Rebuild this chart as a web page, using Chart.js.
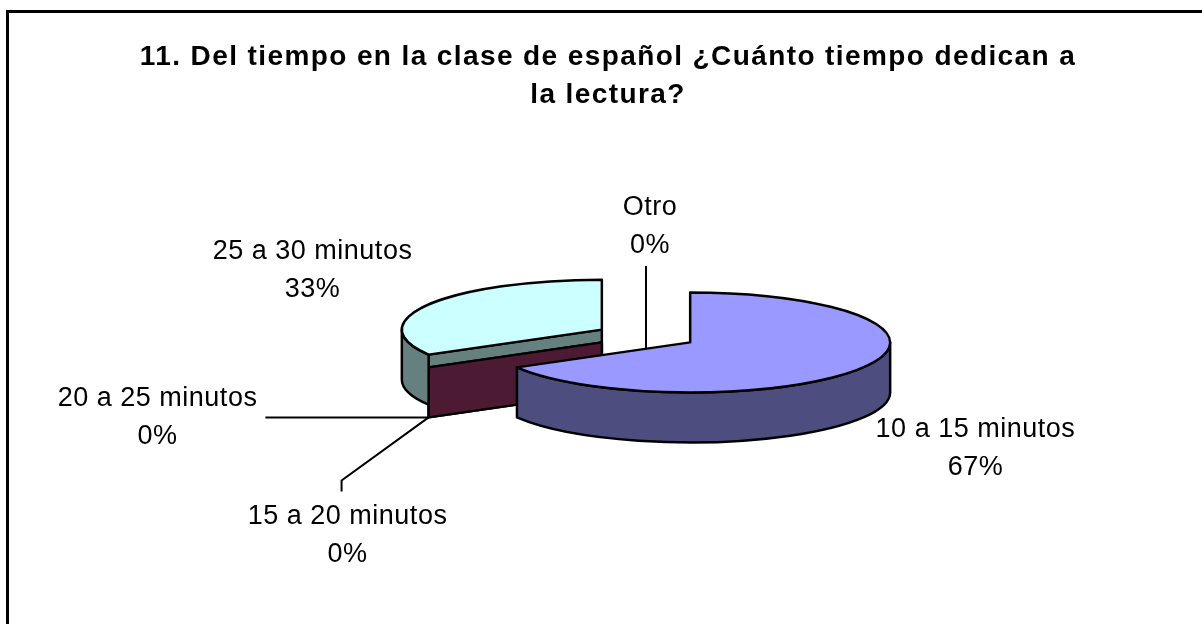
<!DOCTYPE html>
<html lang="es">
  <head>
    <meta charset="UTF-8" />
    <meta name="viewport" content="width=device-width, initial-scale=1.0" />
    <title>Chartjs - Pie 3D</title>
    <script src="https://cdn.jsdelivr.net/npm/chart.js@4.4.1/dist/chart.umd.min.js"></script>
    <style>
      html, body { margin: 0; padding: 0; background: #fff; }
      .container--pieChart { width: 1202px; height: 624px; position: relative; }
    </style>
  </head>
  <body>
    <main>
      <div class="container--pieChart">
        <canvas id="myChart"></canvas>
      </div>
    </main>
    <script>
      const titleLines = ['11. Del tiempo en la clase de español ¿Cuánto tiempo dedican a', 'la lectura?'];
      const categories = ['10 a 15 minutos', '15 a 20 minutos', '20 a 25 minutos', '25 a 30 minutos', 'Otro'];
      const counts = [2, 0, 0, 1, 0];
      const topColors = ['#9999FF', '#993366', '#FFFFCC', '#CCFFFF', '#660066'];
      const sideColors = ['#4D4D80', '#4D1A33', '#808066', '#668080', '#330033'];

      const GUTTER = 76; // empty box on the left, pushes the pie right of the title centre

      const getSlices = (chart, opts) => {
        return chart.getDatasetMeta(0).data.map((arc, i) => {
          const { x, y, startAngle, endAngle, outerRadius } = arc.getProps(['x', 'y', 'startAngle', 'endAngle', 'outerRadius'], true);
          const mid = (startAngle + endAngle) / 2;
          return {
            i, arc, x, y, mid,
            a0: startAngle,
            a1: endAngle,
            R: outerRadius,
            ry: outerRadius * opts.tilt,
            cx: x + opts.explode * Math.cos(mid),
            cy: y + opts.explode * opts.tilt * Math.sin(mid),
          };
        });
      };

      // draws the pie as a tilted, exploded 3D pie
      const pie3d = {
        id: 'pie3d',
        beforeInit(chart) {
          Chart.layouts.addBox(chart, {
            position: 'left',
            weight: 0,
            fullSize: false,
            options: {},
            isHorizontal() { return false; },
            update(maxWidth, maxHeight) { this.width = GUTTER; this.height = maxHeight; },
            draw() {},
          });
        },
        beforeDraw(chart) {
          const ctx = chart.ctx;
          ctx.save();
          ctx.lineWidth = 3;
          ctx.strokeStyle = '#000';
          ctx.strokeRect(7.5, 11.5, chart.width + 100, chart.height + 100);
          ctx.restore();
          ctx.letterSpacing = '1.4px'; // title spacing
        },
        beforeDatasetsDraw(chart, args, opts) {
          const ctx = chart.ctx;
          ctx.letterSpacing = '0px';
          const D = opts.depth;
          const slices = getSlices(chart, opts);
          ctx.save();
          ctx.lineWidth = opts.lineWidth;
          ctx.strokeStyle = '#000';
          ctx.lineJoin = 'round';

          // cut faces
          const faces = [];
          slices.forEach((s) => {
            [[s.a0, s.a0 - Math.PI / 2], [s.a1, s.a1 + Math.PI / 2]].forEach(([a, n]) => {
              if (Math.sin(n) > 0.01) faces.push({ s, a, key: s.cy + (s.ry * Math.sin(a)) / 2 });
            });
          });
          faces.sort((p, q) => p.key - q.key || q.s.i - p.s.i);
          faces.forEach(({ s, a }) => {
            const ex = s.cx + s.R * Math.cos(a);
            const ey = s.cy + s.ry * Math.sin(a);
            ctx.beginPath();
            ctx.moveTo(s.cx, s.cy);
            ctx.lineTo(ex, ey);
            ctx.lineTo(ex, ey + D);
            ctx.lineTo(s.cx, s.cy + D);
            ctx.closePath();
            ctx.fillStyle = sideColors[s.i];
            ctx.fill();
            ctx.stroke();
          });

          // outer walls (front half only)
          slices.forEach((s) => {
            const t0 = Math.max(s.a0, 0);
            const t1 = Math.min(s.a1, Math.PI);
            if (t1 - t0 < 1e-6) return;
            ctx.beginPath();
            ctx.ellipse(s.cx, s.cy, s.R, s.ry, 0, t0, t1);
            ctx.lineTo(s.cx + s.R * Math.cos(t1), s.cy + s.ry * Math.sin(t1) + D);
            ctx.ellipse(s.cx, s.cy + D, s.R, s.ry, 0, t1, t0, true);
            ctx.closePath();
            ctx.fillStyle = sideColors[s.i];
            ctx.fill();
            ctx.stroke();
          });

          // tops: library arcs, squashed
          slices.forEach((s) => {
            if (s.a1 - s.a0 < 1e-6) return;
            ctx.save();
            ctx.translate(s.cx, s.cy);
            ctx.scale(1, opts.tilt);
            ctx.translate(-s.x, -s.y);
            s.arc.draw(ctx);
            ctx.restore();
            ctx.beginPath();
            ctx.moveTo(s.cx, s.cy);
            ctx.ellipse(s.cx, s.cy, s.R, s.ry, 0, s.a0, s.a1);
            ctx.closePath();
            ctx.stroke();
          });
          ctx.restore();
          return false;
        },
        afterDraw(chart, args, opts) {
          const ctx = chart.ctx;
          const D = opts.depth;
          const g = opts.lineGap;
          const total = counts.reduce((a, b) => a + b, 0);
          const slices = getSlices(chart, opts);
          ctx.save();
          ctx.font = opts.labelFont;
          ctx.letterSpacing = '0.5px';
          ctx.fillStyle = '#000';
          ctx.strokeStyle = '#000';
          ctx.lineWidth = 2;
          ctx.textAlign = 'center';
          ctx.textBaseline = 'middle';
          slices.forEach((s) => {
            const nudge = opts.labelNudge[s.i];
            const sin = Math.sin(s.mid);
            const lx = s.x + opts.labelRadius * Math.cos(s.mid) + nudge[0];
            const ly = s.y + opts.labelRadius * opts.labelTilt * sin + (sin > 0 ? D : 0) + nudge[1];
            const lines = [categories[s.i], Math.round((counts[s.i] / total) * 100) + '%'];
            ctx.fillText(lines[0], lx, ly - g / 2);
            ctx.fillText(lines[1], lx, ly + g / 2);
            if (counts[s.i] !== 0) return;
            const ax = s.cx + s.R * Math.cos(s.mid);
            const ay = s.cy + s.ry * sin + D;
            const w = ctx.measureText(lines[0]).width;
            const top = ly - g / 2 - 12;
            const bottom = ly + g / 2 + 12;
            ctx.beginPath();
            if (bottom < ay) {
              ctx.moveTo(ax, bottom + 8);
              ctx.lineTo(ax, s.cy + D / 2);
            } else if (top > ay) {
              ctx.moveTo(ax, ay);
              ctx.lineTo(lx - 6, top - 24);
              ctx.lineTo(lx - 6, top - 13);
            } else {
              ctx.moveTo(ax, ay);
              ctx.lineTo(lx + w / 2 + 8, ay);
            }
            ctx.stroke();
          });
          ctx.restore();
        },
      };

      const data = {
        labels: categories,
        datasets: [
          {
            data: counts,
            backgroundColor: topColors,
            borderWidth: 0,
            radius: 200,
            offset: 0,
            hoverOffset: 0,
          },
        ],
      };

      const config = {
        type: 'pie',
        data: data,
        options: {
          animation: false,
          responsive: true,
          maintainAspectRatio: false,
          events: [],
          layout: {
            padding: { left: 14, right: 0, top: 0, bottom: 66.5 },
          },
          plugins: {
            legend: { display: false },
            tooltip: { enabled: false },
            title: {
              display: true,
              text: titleLines,
              color: '#000',
              font: { family: "'Liberation Sans', Arial, sans-serif", size: 28, weight: 'bold', lineHeight: '38px' },
              padding: { top: 38.5, bottom: 0 },
            },
            pie3d: {
              tilt: 0.25,
              depth: 50,
              explode: 51,
              lineWidth: 2.5,
              labelRadius: 385,
              labelTilt: 0.33,
              lineGap: 38,
              labelFont: "27px 'Liberation Sans', Arial, sans-serif",
              labelNudge: [[-4, -1], [35, 86], [-155, -32], [0, -2], [4, 18]],
            },
          },
        },
        plugins: [pie3d],
      };

      const myChart = new Chart(document.getElementById('myChart'), config);
    </script>
  </body>
</html>
